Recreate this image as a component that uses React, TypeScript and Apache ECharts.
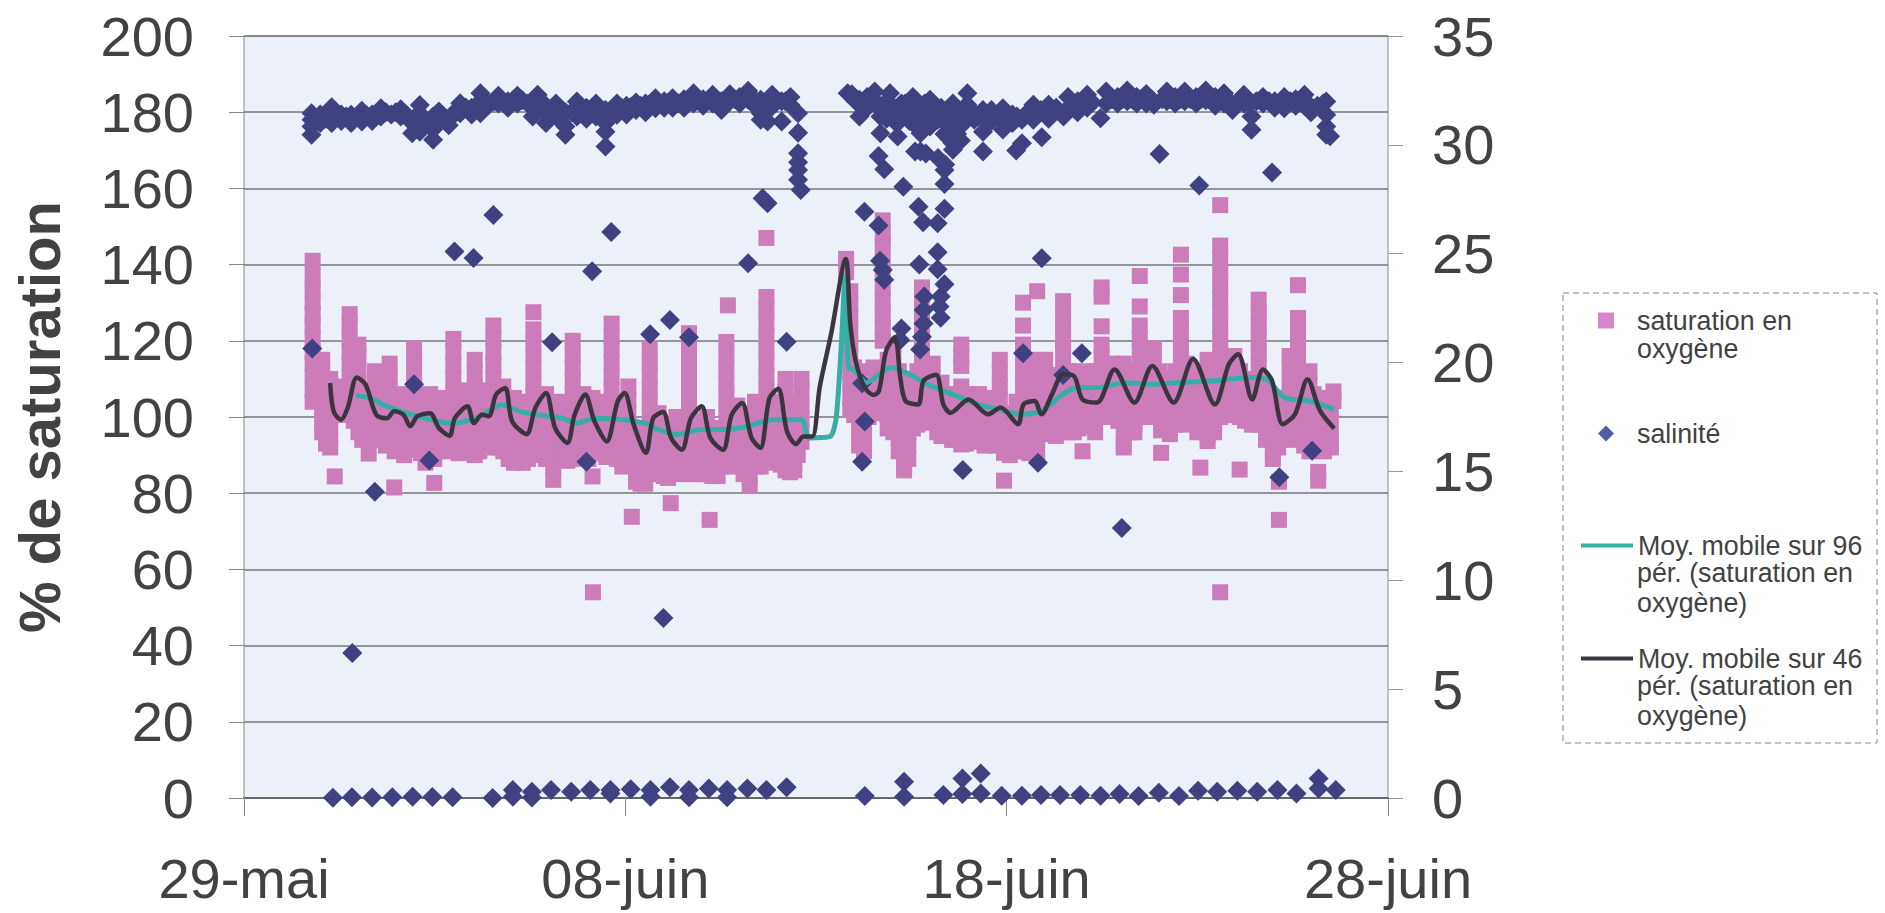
import React, { useEffect, useRef } from "react";
import * as echarts from "echarts";

const xTickLabels: Record<number, string> = { 0: "29-mai", 10: "08-juin", 20: "18-juin", 30: "28-juin" };

// saturation: each entry is [day since 29-mai, values at that day]
const satEarly: [number, number[]][] = [
  [1.8, [141, 137, 133.5, 130, 127, 124, 120.5, 117, 114, 110.5, 107, 104]],
  [2.05, [115, 112, 108.5, 105, 102, 99, 96]],
  [2.26, [110, 107, 103.5, 100, 97, 94.5, 92]],
  [2.38, [84.4]],
  [2.53, [104, 100.5]],
  [2.77, [127, 124, 120.5, 117, 114, 110.5, 107, 104, 101]],
  [3.0, [119, 116, 112.5, 109, 106, 102.5, 99, 96]],
  [3.2, [99, 96]],
  [3.27, [90.4]],
  [3.43, [112, 109, 105.5, 102, 99, 95.5]],
  [3.61, [107, 103, 99.5, 96, 94]],
  [3.82, [114, 110.5, 107, 104, 100.5, 97, 94]],
  [3.94, [81.5]],
  [4.08, [106, 102, 98.5, 95, 92]],
  [4.3, [105, 102, 98.5, 95, 91.5]],
  [4.46, [118, 114.5, 111, 107.5, 104, 100.5]],
  [4.64, [104, 100.5, 97, 93.5, 90.5]],
  [4.88, [106, 102.5, 99, 95.5, 92, 89]],
  [4.99, [89, 82.7]],
  [5.2, [105, 101.5, 98, 94.5, 92]],
  [5.49, [120.5, 117, 113.5, 110, 106.5, 103, 99.5, 96, 92]],
  [5.77, [107, 103.5, 100, 96.5, 93]],
  [6.05, [115, 111.5, 108, 104.5, 101, 97.5, 94, 90]],
  [6.28, [107, 103.5, 100, 96.5, 93]],
  [6.54, [124, 120.5, 117, 113.5, 110, 106.5, 103, 99.5, 96, 94]],
  [6.8, [108, 104.5, 101, 97.5, 94, 91]],
  [7.08, [105, 101.5, 98, 94.5, 91, 88]],
  [7.31, [104, 100.5, 97, 93.5, 90, 88]],
  [7.59, [127.5, 123, 119.5, 116, 112.5, 109, 105.5, 102, 98.5, 95, 93]],
  [7.92, [106, 102.5, 99, 95.5, 92, 89]],
  [8.11, [87, 83.5]],
  [8.16, [100, 96.5, 93, 90]],
  [8.34, [104, 100.5, 97, 93.5, 90]],
  [8.62, [120, 116.5, 113, 109.5, 106, 102.5, 99, 95.5, 92, 89]],
  [8.9, [106, 102.5, 99, 95.5, 92, 90]],
  [9.14, [105, 101.5, 98, 94.5, 91, 84.4]],
  [9.15, [54]],
  [9.37, [104, 100.5, 97, 93.5, 91]],
  [9.64, [124.5, 121, 117.5, 114, 110.5, 107, 103.5, 100, 96.5, 93, 91]],
  [10.08, [108, 104.5, 101, 97.5, 94]],
  [10.17, [95, 91.5, 88, 73.8]],
  [10.4, [93, 89.5, 86, 82.5]],
  [10.64, [118, 114.5, 111, 107.5, 104, 100.5, 97, 93.5, 91]],
  [10.87, [101, 97.5, 94, 90.5, 87]],
  [11.01, [98, 94.5, 91, 87.5, 84.5]],
  [11.19, [77.4]],
  [11.34, [100, 96.5, 93, 89.5, 86]],
  [11.67, [122, 118.5, 115, 111.5, 108, 104.5, 101, 97.5, 94, 91, 88]],
  [11.9, [98, 94.5, 91, 87.5, 85]],
  [12.14, [100, 96.5, 93, 89.5, 86]],
  [12.21, [73]],
  [12.42, [97, 93.5, 90, 87, 84.5]],
  [12.65, [119.7, 116, 112.5, 109, 105.5, 102, 98.5, 95, 93]],
  [12.69, [129.3]],
  [12.94, [103, 99.5, 96, 92.5, 89]],
  [13.26, [98, 94.5, 91, 87.5, 84.5, 82]],
  [13.4, [104, 100.5, 97, 93.5, 90, 87]],
  [13.7, [147, 131.5, 128, 124.5, 121, 117.5, 114, 110.5, 107, 103.5, 100, 96.5]],
  [13.96, [101, 97.5, 94, 90.5, 88]],
  [14.2, [110, 106.5, 103, 99.5, 96, 92.5, 89, 86]],
  [14.43, [102, 98.5, 95, 91.5, 88, 86]],
  [14.62, [110, 107, 103, 99.5, 96, 93.5]],
];

const satEarlyDense: [number, number[]][] = [
  [2.15, [106, 102, 98.5, 95, 93]], [2.64, [108, 104.5, 101]], [2.88, [110, 106, 102.5, 99]], [3.1, [103, 99.5, 96, 94]],
  [3.33, [100, 96.5, 94]], [3.72, [106, 102, 98.5, 95, 92.5]], [3.95, [104, 100.5, 97, 93.5, 91]], [4.2, [103, 99.5, 96, 92.5, 90]],
  [4.54, [106, 102.5, 99, 95.5, 92]], [4.76, [105, 101.5, 98, 94.5, 91, 88]], [5.06, [104, 100.5, 97, 93.5, 91]], [5.34, [103, 99.5, 96, 92.5, 91]],
  [5.63, [104, 100.5, 97, 93.5, 90.5]], [5.9, [105, 101.5, 98, 94.5, 91]], [6.17, [104, 100.5, 97, 93.5, 91]], [6.4, [106, 102.5, 99, 95.5, 92]],
  [6.68, [105, 101.5, 98, 94.5, 92]], [6.94, [103, 99.5, 96, 92.5, 89]], [7.2, [100, 96.5, 93, 89.5]], [7.45, [102, 98.5, 95, 91.5, 89]],
  [7.75, [104, 100.5, 97, 93.5, 90]], [8.02, [103, 99.5, 96, 92.5, 89]], [8.48, [102, 98.5, 95, 91.5, 88.5]], [8.76, [104, 100.5, 97, 93.5, 90]],
  [9.03, [103, 99.5, 96, 92.5, 89]], [9.26, [101, 97.5, 94, 90.5]], [9.5, [100, 96.5, 93, 89.5]], [9.78, [103, 99.5, 96, 92.5, 89]],
  [9.92, [101, 97.5, 94, 90.5, 87]], [10.28, [96, 92.5, 89, 86, 83]], [10.52, [96, 92.5, 89, 85.5, 82.5]], [10.76, [98, 94.5, 91, 87.5, 85]],
  [11.12, [97, 93.5, 90, 86.5, 84]], [11.5, [98, 94.5, 91, 87.5, 85]], [11.8, [99, 95.5, 92, 88.5, 85.5]], [12.02, [98, 94.5, 91, 87.5, 85]],
  [12.28, [97, 93.5, 90, 86.5, 84.5]], [12.54, [97, 93.5, 90, 87]], [12.8, [100, 96.5, 93, 89.5, 87]], [13.1, [99, 95.5, 92, 88.5, 85]],
  [13.55, [103, 99.5, 96, 92.5, 89, 87]], [13.82, [104, 100.5, 97, 93.5, 90]], [14.08, [101, 97.5, 94, 90.5, 87.5]], [14.32, [102, 98.5, 95, 91.5, 88.5, 85.5]],
  [14.52, [104, 100.5, 97, 93.5, 90]],
];

const satLate: [number, number[]][] = [
  [15.79, [141.5, 138]],
  [15.9, [133, 129.5, 126, 122.5, 119, 115.5, 112, 108.5, 105, 102]],
  [16.0, [113, 109.5, 106, 103, 100.5]],
  [16.26, [112, 108.5, 105, 101.5, 98, 94.5, 91]],
  [16.51, [113, 109.5, 106, 102.5, 101.5]],
  [16.75, [151.6, 148, 145, 141, 137.5, 134, 130.5, 127, 123.5, 120]],
  [17.03, [119, 115.5, 112, 108.5, 105, 101.5, 98, 96]],
  [17.31, [108, 104.5, 101, 97.5, 94, 90.5, 87, 86]],
  [17.54, [110, 106.5, 103, 99.5, 97]],
  [17.78, [134, 130.5, 127, 123.5, 120, 116.5, 113, 109.5, 106, 102.5, 100]],
  [18.06, [114, 110.5, 107, 103.5, 100]],
  [18.29, [109, 105.5, 102, 98.5, 95]],
  [18.57, [106, 102.5, 99, 96, 94]],
  [18.81, [119, 116, 113.4, 108, 104.5, 101, 97.5, 94.5, 92.8]],
  [19.04, [106, 102.5, 99, 96, 94]],
  [19.27, [106, 102.5, 99, 95.5, 93.5]],
  [19.6, [105, 101.5, 98, 95, 93]],
  [19.82, [115, 111.5, 108, 104.5, 101]],
  [19.93, [101, 97.5, 94, 90.6, 83.3]],
  [20.26, [104, 100.5, 97, 93.5, 91]],
  [20.43, [130, 124, 119, 115.5, 112, 108.5, 105, 101.5, 98, 94.5, 91]],
  [20.8, [133, 115, 111.5, 108, 104.5, 101, 97.5, 94, 90.5]],
  [21.01, [115, 111.5, 108, 104.5, 101, 97.5, 95.5]],
  [21.29, [111, 107.5, 104, 100.5, 97, 95]],
  [21.48, [130.4, 127, 123.5, 120, 118, 114, 110.5, 107, 103.5, 100, 96.5]],
  [21.76, [112, 108.5, 105, 101.5, 98, 96]],
  [21.99, [111, 107.5, 104, 100.5, 97.5, 91]],
  [22.32, [112, 108.5, 105, 102, 96]],
  [22.49, [134, 131.6, 123.8, 119, 115.5, 112, 108.5, 105, 101.5, 100]],
  [22.79, [114, 110.5, 107, 103.5, 100]],
  [23.07, [114, 110.5, 107, 103.5, 100, 96.5, 93, 92]],
  [23.35, [112, 108.5, 105, 101.5, 98, 96]],
  [23.49, [137, 129, 124, 120.5, 117, 113.5, 110, 106.5, 103.5]],
  [23.86, [118, 114.5, 111, 107.5, 104, 101]],
  [24.05, [102, 98.5, 96.5, 90.6]],
  [24.28, [104, 100.5, 97, 95.5]],
  [24.57, [142.6, 137.4, 132, 126, 122.5, 119, 115.5, 112, 108.5, 105, 101.5, 99.5]],
  [24.85, [112, 108.5, 105, 101.5, 100]],
  [25.08, [86.7]],
  [25.27, [115, 111.5, 108, 104.5, 101, 97.5, 95.5, 93.7]],
  [25.6, [155.6, 145, 141.5, 138, 134.5, 131, 127.5, 124, 120.5, 117, 113.5, 110, 106.5, 103, 100, 54]],
  [25.97, [116, 112.5, 109, 105.5, 102, 100.5]],
  [26.11, [86.2]],
  [26.25, [108, 104.5, 101, 99]],
  [26.61, [130.8, 127.3, 123.8, 120.3, 116.8, 113.3, 109.8, 106.3, 102.8, 99.3, 98]],
  [26.98, [105, 101.5, 98, 94.5, 91, 89]],
  [27.14, [83, 73]],
  [27.28, [105, 101.5, 98, 96]],
  [27.42, [116, 112.5, 109, 105.5, 102, 98.5, 95]],
  [27.64, [134.6, 126, 122.5, 119, 115.5, 112, 108.5, 105, 101.5, 98]],
  [27.94, [112, 108.5, 105, 101.5, 98, 94.5, 91]],
  [28.17, [105, 101.5, 98, 94.5, 92, 85.6, 83.3]],
  [28.5, [100, 96.5, 93, 92]],
  [28.57, [106.7, 104.2]],
];

const satLateDense: [number, number[]][] = [
  [16.13, [110, 106.5, 103, 99.5, 96, 92.5]], [16.38, [110, 106.5, 103, 100]], [16.63, [112, 108, 104.5, 101]], [16.88, [115, 111, 107.5, 104, 100.5, 97]],
  [17.17, [112, 108.5, 105, 101.5, 98, 94.5, 91]], [17.42, [110, 106.5, 103, 99.5, 96, 92.5, 89]], [17.66, [112, 108.5, 105, 101.5, 98]], [17.92, [112, 108.5, 105, 101.5, 98.5]],
  [18.18, [106, 102.5, 99, 96]], [18.43, [105, 101.5, 98, 95]], [18.69, [106, 102.5, 99, 96, 94]], [18.93, [105, 101.5, 98, 95, 93]],
  [19.15, [104, 100.5, 97, 94]], [19.42, [104, 100.5, 97, 94, 92.5]], [19.71, [103, 99.5, 96, 92.5]], [20.08, [100, 96.5, 93, 90]],
  [20.6, [108, 104.5, 101, 97.5, 94, 90.5]], [20.92, [106, 102.5, 99, 96]], [21.15, [108, 104.5, 101, 97.5, 96]], [21.62, [112, 108.5, 105, 101.5, 98, 96]],
  [21.88, [110, 106.5, 103, 99.5, 97]], [22.16, [112, 108.5, 105, 101.5, 98]], [22.65, [110, 106.5, 103, 101]], [22.93, [112, 108.5, 105, 101.5, 99]],
  [23.22, [110, 106.5, 103, 99.5, 96]], [23.68, [113, 109.5, 106, 102.5, 100]], [24.0, [112, 108.5, 105, 102]], [24.18, [110, 106.5, 103, 100]],
  [24.42, [112, 108.5, 105, 101.5, 98]], [24.72, [114, 110.5, 107, 103.5, 100, 98]], [25.0, [112, 108.5, 105, 101.5, 98, 96]], [25.44, [112, 108.5, 105, 101.5, 98, 96]],
  [25.78, [114, 110.5, 107, 103.5, 100.5]], [26.12, [112, 108.5, 105, 102, 100]], [26.43, [110, 106.5, 103, 99.5, 98]], [26.8, [108, 104.5, 101, 97.5, 94]],
  [27.12, [105, 101.5, 98, 94.5, 92]], [27.52, [108, 104.5, 101, 97.5, 94]], [27.8, [110, 106.5, 103, 99.5, 96, 92.5]], [28.05, [106, 102.5, 99, 95.5, 92]],
  [28.32, [104, 100.5, 97, 93.5, 91]],
];

// salinity: upper band, first half then second half
const salTopEarly: [number, number[]][] = [
  [1.77, [31.45, 31.15, 30.84, 30.46]], [2.0, [31.4, 31]], [2.3, [31.73, 31]], [2.55, [31.4, 31.1]],
  [2.81, [31.38, 31.0]], [3.09, [31.57, 31.07]], [3.36, [31.4, 31.1]], [3.59, [31.68, 31.3]],
  [3.86, [31.4]], [4.11, [31.64, 31.3]], [4.41, [31, 30.53]], [4.61, [31.83, 31.15, 30.6]],
  [4.96, [31.3, 30.7, 30.23]], [5.11, [31.53, 31.15]], [5.37, [31.15, 30.9]], [5.67, [31.91, 31.45]],
  [5.97, [31.7, 31.4]], [6.2, [32.37, 31.9, 31.45]], [6.67, [32.25, 31.9]], [6.92, [32.0, 31.7]],
  [7.17, [32.25, 31.9]], [7.57, [31.3]], [7.7, [32.3, 31.9]], [7.92, [31.8, 31]],
  [8.18, [31.9, 31.3]], [8.43, [31.5, 30.84, 30.46]], [8.73, [31.99, 31.3]], [8.98, [31.7, 31.2]],
  [9.23, [31.9, 31.3]], [9.48, [31.6, 31, 30.6, 29.92]], [9.78, [31.9, 31.38]], [10.03, [31.8, 31.4]],
  [10.28, [31.94, 31.6]], [10.53, [31.9, 31.5]], [10.79, [32.14, 31.68]], [11.02, [32.0, 31.7]],
  [11.24, [32.14, 31.7]], [11.54, [32.1, 31.7]], [11.79, [32.37, 31.9]], [12.04, [32.1, 31.8]],
  [12.29, [32.3, 31.9]], [12.52, [32.0, 31.6]], [12.74, [32.33, 32.0]], [13.0, [32.2, 31.9]],
  [13.22, [32.48, 32.07]], [13.55, [32.07, 31.45, 31.15]], [13.73, [31.07]], [13.85, [32.3, 31.76]],
  [14.1, [32, 31.07]], [14.33, [32.2, 31.83]], [14.53, [31.45, 30.56, 29.62, 29.2, 28.85, 28.4]], [14.6, [27.93]],
];

const salTopEarlyDense: [number, number][] = [
  [1.88, 31.2], [2.15, 31.2], [2.42, 31.25], [2.68, 31.3], [2.95, 31.3], [3.22, 31.35], [3.47, 31.4], [3.72, 31.5],
  [3.98, 31.5], [4.25, 31.4], [4.5, 31.3], [4.75, 31.2], [5.24, 31.3], [5.52, 31.5], [5.82, 31.7], [6.08, 31.8],
  [6.32, 32], [6.43, 31.85], [6.55, 32], [6.8, 32], [7.05, 32.05], [7.3, 32.05], [7.44, 31.9], [7.82, 31.6],
  [8.05, 31.55], [8.3, 31.5], [8.58, 31.5], [8.85, 31.6], [9.1, 31.55], [9.36, 31.5], [9.62, 31.6], [9.9, 31.7],
  [10.15, 31.75], [10.4, 31.8], [10.66, 31.9], [10.9, 31.9], [11.13, 31.95], [11.4, 31.9], [11.66, 32.05], [11.92, 32.05],
  [12.16, 32.05], [12.4, 32.05], [12.63, 31.95], [12.87, 32.1], [13.1, 32.15], [13.38, 32.1], [13.45, 31.7], [13.68, 31.9],
  [13.98, 32], [14.2, 32],
];

const salTopLate: [number, number[]][] = [
  [15.83, [32.37]], [15.94, [32.33]], [16.14, [32.07, 31.3]], [16.34, [32.2, 31.7]],
  [16.54, [32.45, 31.9]], [16.69, [31.3, 30.53]], [16.94, [32.37, 31.6]], [17.14, [31, 30.38]],
  [17.34, [31.9, 31.3]], [17.54, [32.2, 31.6, 31]], [17.74, [31.3, 30.53]], [17.99, [32.07, 31.45, 30.84]],
  [18.19, [31.6, 31.15]], [18.37, [30.5]], [18.59, [31.9, 31.15, 30.6, 30.07, 29.77]], [18.8, [31.5, 30.9, 30.2]],
  [18.97, [32.37, 31.84]], [19.15, [31.15]], [19.38, [31.6, 30.6]], [19.6, [31.6, 31.1]],
  [19.9, [31.68, 30.7]], [20.15, [31.4, 31]], [20.4, [31.15]], [20.7, [31.84, 31.15]],
  [21.1, [31.84, 31.2]], [21.49, [31.3]], [21.61, [32.2, 31.68]], [21.86, [32, 31.5]],
  [22.11, [32.3, 31.7]], [22.46, [31.22]], [22.61, [32.45, 31.9]], [22.91, [32.2, 31.9]],
  [23.16, [32.5, 32]], [23.41, [32.2, 31.9]], [23.66, [32.34, 31.9]], [23.86, [31.84]],
  [24.2, [32.45, 32]], [24.42, [32.2, 31.9]], [24.67, [32.45, 32]], [24.97, [32.2, 31.9]],
  [25.22, [32.5, 32.05]], [25.47, [32.2, 31.8]], [25.7, [32.37, 31.9]], [25.92, [31.6]],
  [26.22, [32.3, 31.9]], [26.42, [31.3, 30.69]], [26.72, [32.2, 31.9]], [27.03, [32.0, 31.7]],
  [27.28, [32.2, 31.68]], [27.58, [32.1, 31.8]], [27.81, [32.3, 31.8]], [27.98, [31.5]],
  [28.38, [31.99, 31.38, 30.84, 30.46]], [28.48, [30.4]],
];

const salTopLateDense: [number, number][] = [
  [16.04, 32], [16.25, 31.9], [16.44, 32], [16.62, 31.9], [16.8, 31.9], [16.85, 31.2], [17.05, 31.7], [17.05, 31.1],
  [17.24, 31.9], [17.24, 31.2], [17.45, 31.8], [17.45, 31.1], [17.65, 31.9], [17.85, 31.9], [17.85, 31], [17.9, 31.4],
  [18.09, 31.8], [18.09, 31.1], [18.28, 31.7], [18.28, 31.2], [18.42, 31.4], [18.48, 31], [18.48, 30.3], [18.7, 31.6],
  [18.7, 30.5], [18.88, 31.7], [18.88, 31], [19.06, 31.6], [19.26, 31.3], [19.48, 31.2], [19.75, 31.3], [20.02, 31.3],
  [20.27, 31.3], [20.55, 31.5], [20.9, 31.6], [21.3, 31.7], [21.75, 31.9], [22, 31.95], [22.25, 31.95], [22.76, 32.1],
  [23.04, 32.1], [23.28, 32.1], [23.52, 32.1], [23.8, 32.1], [24.08, 32.1], [24.3, 32.1], [24.55, 32.1], [24.82, 32.1],
  [25.1, 32.1], [25.35, 32.05], [25.58, 32], [25.85, 32], [26.08, 32], [26.35, 31.9], [26.55, 32], [26.88, 32],
  [27.16, 31.9], [27.44, 32], [27.7, 32], [27.9, 31.9], [28.15, 31.8], [28.3, 31.9],
];

// salinity: isolated readings between the two bands
const salIsolated: [number, number][] = [
  [6.54, 26.78], [5.52, 25.1], [6.02, 24.8], [9.63, 26.0], [9.13, 24.2], [13.22, 24.56],
  [13.6, 27.55], [13.73, 27.32], [1.79, 20.65], [4.46, 19.0], [4.86, 15.5], [3.43, 14.07],
  [2.84, 6.66], [11.0, 8.27], [23.02, 12.4], [8.08, 20.93], [8.98, 15.45], [10.65, 21.3],
  [11.17, 21.95], [11.67, 21.16], [14.23, 20.96], [16.64, 29.49], [16.79, 28.88], [17.29, 28.08],
  [16.27, 26.93], [16.64, 26.3], [17.69, 27.16], [18.37, 28.2], [18.37, 27.06], [17.81, 26.44],
  [18.19, 26.4], [18.19, 25.07], [17.71, 24.5], [18.19, 24.29], [17.74, 29.69], [17.6, 29.69],
  [17.88, 29.6], [18.2, 29.4], [18.39, 29.1], [18.37, 28.85], [19.38, 29.69], [20.4, 30.07],
  [20.25, 29.74], [20.92, 30.35], [24.01, 29.58], [25.05, 28.13], [26.96, 28.73], [20.92, 24.79],
  [16.68, 24.68], [16.75, 24.25], [16.79, 23.8], [18.37, 23.6], [18.27, 23.03], [18.24, 22.57],
  [18.27, 22.06], [17.84, 23.03], [17.82, 22.42], [17.82, 21.8], [17.78, 21.19], [17.73, 20.6],
  [17.24, 21.57], [17.21, 21.04], [20.43, 20.43], [21.97, 20.43], [21.48, 19.43], [16.21, 19.05],
  [16.28, 17.29], [16.21, 15.45], [18.85, 15.07], [20.82, 15.4], [28.01, 15.95], [27.15, 14.73],
];

// salinity: readings near zero
const salBottom: [number, number][] = [
  [2.33, 0.01], [2.83, 0.03], [3.36, 0.02], [3.89, 0.04], [4.42, 0.06], [4.94, 0.05], [5.47, 0.04], [6.0, -0.02],
  [6.52, 0.0], [7.05, 0.37], [7.05, 0.06], [7.55, 0.29], [7.55, 0.02], [8.05, 0.37], [8.58, 0.29], [9.08, 0.37],
  [9.61, 0.37], [9.61, 0.21], [10.14, 0.4], [10.66, 0.37], [10.66, 0.06], [11.17, 0.49], [11.67, 0.37], [11.67, 0.03],
  [12.19, 0.44], [12.67, 0.37], [12.67, 0.03], [13.2, 0.44], [13.7, 0.37], [13.7, -0.02], [14.23, 0.49],
  [16.28, 0.09], [17.31, 0.75], [17.31, 0.06], [18.34, 0.14], [18.84, 0.9], [18.84, 0.18], [19.32, 1.13], [19.32, 0.21],
  [19.87, 0.1], [20.4, 0.1], [20.9, 0.14], [21.4, 0.14], [21.93, 0.14], [22.46, 0.1], [22.96, 0.18], [23.46, 0.09],
  [23.99, 0.24], [24.52, 0.09], [25.02, 0.33], [25.52, 0.29], [26.05, 0.33], [26.57, 0.29], [27.1, 0.37],
  [27.6, 0.21], [28.18, 0.9], [28.18, 0.44], [28.63, 0.37],
];

const ma96: [number, number][] = [
  [2.94, 105.7], [3.29, 105], [3.75, 102.8], [4.41, 100.6], [5.07, 98.9], [5.53, 98.4], [6.19, 100.2], [6.75, 103.2],
  [7.22, 101.5], [7.69, 100.6], [8.34, 99.7], [8.72, 98.4], [9.19, 99.7], [9.94, 99.3], [10.5, 98.4], [10.87, 96.7],
  [11.34, 95.4], [12, 96.7], [12.65, 96.7], [13.21, 97.6], [13.87, 99.3], [14.62, 99.3], [14.81, 94.5], [15.11, 94.6],
  [15.39, 95], [15.53, 99.8], [15.67, 120], [15.76, 136.7], [15.85, 113], [15.99, 112.5], [16.32, 109], [16.98, 113],
  [17.45, 111.2], [17.92, 108.6], [18.57, 106], [19.23, 103.3], [19.79, 102], [20.35, 100.7], [20.91, 101.6], [21.48, 106],
  [21.85, 107.7], [22.41, 107.7], [23.07, 109], [23.82, 108.6], [24.47, 109], [25.41, 109.5], [26.35, 110.4], [26.82, 109.9],
  [27.28, 105.1], [27.94, 104.2], [28.59, 102],
];

const ma46: [number, number][] = [
  [2.26, 108.9], [2.35, 101.5], [2.54, 99.3], [2.72, 102.4], [2.96, 110.4], [3.19, 108.5], [3.47, 100.6], [3.75, 99.7],
  [3.94, 101.5], [4.18, 100.6], [4.36, 97.6], [4.55, 100.2], [4.88, 101], [5.11, 97.1], [5.39, 95.1], [5.53, 99.7],
  [5.86, 102.8], [6.03, 98.4], [6.24, 100.6], [6.42, 100.2], [6.61, 105.9], [6.85, 107.6], [7.03, 98.9], [7.41, 95.5],
  [7.64, 102.4], [7.92, 106.3], [8.16, 97.1], [8.48, 93.2], [8.67, 100.6], [8.95, 105.9], [9.19, 98.9], [9.51, 93.6],
  [9.8, 104.1], [9.98, 106.3], [10.22, 98], [10.54, 90.6], [10.73, 99.7], [10.99, 101.3], [11.2, 94.5], [11.48, 91.4],
  [11.72, 99.7], [12, 102.8], [12.23, 94.5], [12.56, 91.4], [12.79, 100.6], [13.06, 103.7], [13.31, 94.5], [13.54, 91.9],
  [13.78, 105], [14.01, 107.4], [14.24, 96.2], [14.48, 92.9], [14.67, 94.9], [14.9, 94.9], [15.1, 108], [15.4, 122],
  [15.78, 141.5], [15.9, 124.4], [16.04, 114.7], [16.28, 107.7], [16.51, 105.8], [16.65, 106.8], [16.84, 117.4], [17.07, 120.9],
  [17.21, 110.4], [17.35, 104.2], [17.68, 103.3], [17.82, 109.5], [18.15, 111.1], [18.34, 103.3], [18.53, 101.1], [19, 104.6],
  [19.51, 100.7], [19.84, 102.5], [20.3, 98.1], [20.44, 103.3], [20.73, 104.2], [20.91, 100.7], [21.19, 106], [21.48, 111.2],
  [21.76, 110.8], [21.99, 104.6], [22.37, 103.8], [22.83, 112.5], [23.35, 103.8], [23.82, 113.4], [24.38, 103.8], [24.89, 115.2],
  [25.46, 103.3], [25.83, 113.9], [26.07, 116.5], [26.44, 104.6], [26.72, 112.5], [26.96, 109.5], [27.24, 98.1], [27.56, 100.7],
  [27.89, 109.9], [28.22, 101.6], [28.59, 97],
];

const names = {
  sat: "saturation en oxygène",
  sal: "salinité",
  m96: "Moy. mobile sur 96 pér. (saturation en oxygène)",
  m46: "Moy. mobile sur 46 pér. (saturation en oxygène)",
};
const legendFirstLine: Record<string, string> = {
  [names.sat]: "saturation en",
  [names.sal]: "salinité",
  [names.m96]: "Moy. mobile sur 96",
  [names.m46]: "Moy. mobile sur 46",
};

const expand = (cols: [number, number[]][]) => cols.flatMap(([d, vs]) => vs.map((v) => [d, v]));
const FONT = "Liberation Sans";
const INK = "#424242";
const LEGEND_SIZE = 26.8;

export default function App() {
  const ref = useRef<HTMLDivElement>(null);
  useEffect(() => {
    const chart = echarts.init(ref.current!, undefined, { renderer: "svg" });
    const legendBase = (name: string, left: number, top: number, icon: string, h: number, color: string) => ({
      data: [name],
      left,
      top,
      itemWidth: 52,
      itemHeight: h,
      icon,
      itemStyle: { color },
      formatter: (n: string) => legendFirstLine[n],
      textStyle: { fontFamily: FONT, fontSize: LEGEND_SIZE, color: INK },
      selectedMode: false,
    });
    const cont = (text: string, y: number) => ({
      type: "text",
      x: 1637,
      y,
      style: { text, fontFamily: FONT, fontSize: LEGEND_SIZE, fill: INK, verticalAlign: "middle" },
    });
    chart.setOption({
      animation: false,
      backgroundColor: "#ffffff",
      grid: {
        left: 244, top: 36, width: 1144, height: 762, show: true,
        backgroundColor: "#ebf0f9", borderColor: "#8a8a8a", borderWidth: 1,
      },
      xAxis: {
        type: "value", min: 0, max: 30, interval: 10,
        axisLine: { show: true, lineStyle: { color: "#666", width: 2 } },
        axisTick: { show: true, length: 18, lineStyle: { color: "#888" } },
        splitLine: { show: false },
        axisLabel: {
          fontFamily: FONT, fontSize: 56, color: INK, margin: 52,
          formatter: (v: number) => xTickLabels[v] ?? "",
          showMinLabel: true, showMaxLabel: true,
        },
      },
      yAxis: [
        {
          type: "value", min: 0, max: 200, interval: 20, position: "left",
          name: "% de saturation", nameLocation: "middle", nameGap: 176, nameRotate: 90,
          nameTextStyle: { fontFamily: FONT, fontSize: 58, fontWeight: "bold", color: INK },
          axisLine: { show: false },
          axisTick: { show: true, length: 15, lineStyle: { color: "#888" } },
          splitLine: { show: true, lineStyle: { color: "#777", width: 1.5 } },
          axisLabel: { fontFamily: FONT, fontSize: 56, color: INK, margin: 50 },
        },
        {
          type: "value", min: 0, max: 35, interval: 5, position: "right",
          axisLine: { show: false },
          axisTick: { show: true, length: 15, lineStyle: { color: "#999" } },
          splitLine: { show: false },
          axisLabel: { fontFamily: FONT, fontSize: 56, color: INK, margin: 44 },
        },
      ],
      legend: [
        legendBase(names.sat, 1593, 302, "path://M0,0 L2,0 L2,2 L0,2 Z", 16, "#d885cc"),
        legendBase(names.sal, 1593, 415, "path://M0,1 L1,0 L2,1 L1,2 Z", 16, "#4f5ea3"),
        legendBase(names.m96, 1576, 527, "rect", 4, "#35aea6"),
        legendBase(names.m46, 1576, 640, "rect", 4, "#3b3540"),
      ],
      graphic: [
        {
          type: "rect", z: -1,
          shape: { x: 1563, y: 293, width: 314, height: 450 },
          style: { fill: "#ffffff", stroke: "#888", lineWidth: 1, lineDash: [6, 4] },
        },
        cont("oxygène", 349),
        cont("pér. (saturation en", 573),
        cont("oxygène)", 603),
        cont("pér. (saturation en", 686),
        cont("oxygène)", 716),
      ],
      series: [
        {
          name: names.sat, type: "scatter", yAxisIndex: 0,
          symbol: "rect", symbolSize: 16,
          itemStyle: { color: "#cd7cba", opacity: 1 },
          data: [...expand(satEarly), ...expand(satEarlyDense), ...expand(satLate), ...expand(satLateDense)],
        },
        {
          name: names.sal, type: "scatter", yAxisIndex: 1,
          symbol: "diamond", symbolSize: [20, 20],
          itemStyle: { color: "#3f4180", opacity: 1 },
          data: [
            ...expand(salTopEarly), ...salTopEarlyDense, ...expand(salTopLate), ...salTopLateDense,
            ...salIsolated, ...salBottom,
          ],
        },
        {
          name: names.m96, type: "line", yAxisIndex: 0, showSymbol: false, symbol: "none",
          smooth: 0.25,
          lineStyle: { color: "#35aea6", width: 5 }, itemStyle: { color: "#35aea6" },
          data: ma96,
        },
        {
          name: names.m46, type: "line", yAxisIndex: 0, showSymbol: false, symbol: "none",
          smooth: 0.3,
          lineStyle: { color: "#3b3540", width: 4.5 }, itemStyle: { color: "#3b3540" },
          data: ma46,
        },
      ],
    });
    return () => chart.dispose();
  }, []);
  return <div ref={ref} style={{ position: "fixed", left: 0, top: 0, width: 1885, height: 913 }} />;
}
